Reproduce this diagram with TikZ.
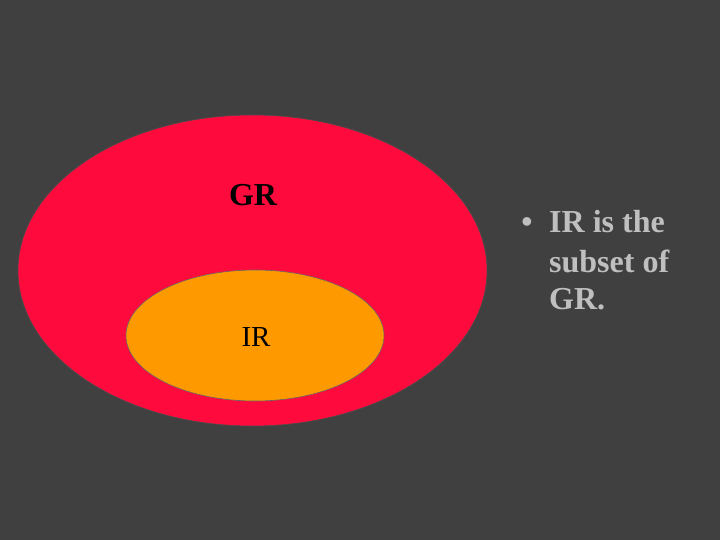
\documentclass[tikz,border=0pt]{standalone}
\usepackage{fontspec}
\setmainfont{Liberation Serif}
\definecolor{bg}{HTML}{404040}
\definecolor{gred}{HTML}{FF0A3C}
\definecolor{iorange}{HTML}{FF9900}
\definecolor{txtgray}{HTML}{BFBFBF}
\tikzset{
  setlabel/.style={inner sep=0pt, text=black},
  bullettext/.style={inner sep=0pt, anchor=base west, text=txtgray, font=\fontsize{32}{38}\selectfont\bfseries},
}
\begin{document}
\begin{tikzpicture}[x=1pt,y=-1pt]
\fill[bg] (0,0) rectangle (720,540);
\useasboundingbox (0,0) rectangle (720,540);
\draw[fill=gred, draw=black!70, line width=0.6pt] (252.5,270.5) ellipse [x radius=234.5, y radius=155.5];
\draw[fill=iorange, draw=black!60, line width=0.6pt] (255,335.5) ellipse [x radius=129, y radius=65.5];
\node[setlabel, anchor=base, font=\fontsize{32}{38}\selectfont\bfseries] (gr) at (253,206) {GR};
\node[setlabel, anchor=base, font=\fontsize{29}{34}\selectfont] (ir) at (256,346) {IR};
\node[bullettext, anchor=base] (bul) at (527,233) {•};
\node[bullettext] (l1) at (549,233) {IR is the};
\node[bullettext] (l2) at (549,272) {subset of};
\node[bullettext] (l3) at (549,309) {GR.};
\end{tikzpicture}
\end{document}
